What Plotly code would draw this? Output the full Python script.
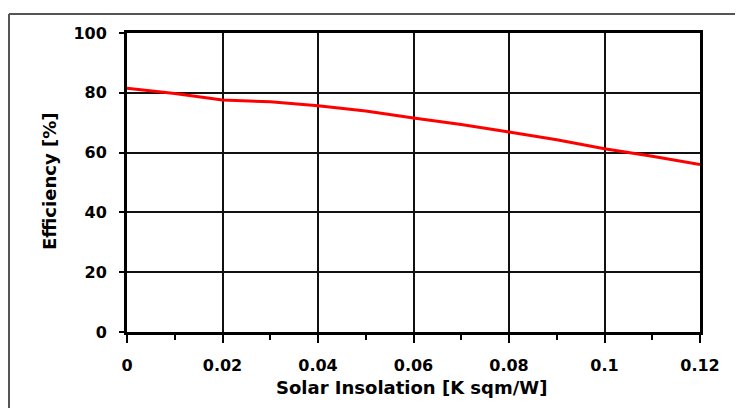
import plotly.graph_objects as go

insolation = [0.0, 0.01, 0.02, 0.03, 0.04, 0.05, 0.06, 0.07, 0.08, 0.09, 0.10, 0.11, 0.12]
efficiency = [81.5, 79.8, 77.6, 77.0, 75.7, 73.9, 71.6, 69.4, 66.9, 64.3, 61.3, 58.8, 56.0]

x_ticks = [0, 0.02, 0.04, 0.06, 0.08, 0.1, 0.12]
x_labels = ["0", "0.02", "0.04", "0.06", "0.08", "0.1", "0.12"]
y_ticks = [0, 20, 40, 60, 80, 100]

tick_font = dict(family="DejaVu Sans", size=16, color="black", weight="bold")
title_font = dict(family="DejaVu Sans", size=18, color="black", weight="bold")

fig = go.Figure()
fig.add_trace(go.Scatter(x=insolation, y=efficiency, mode="lines",
                         line=dict(color="#ff0000", width=3), showlegend=False))

# page body has an 8px default margin; compensate so the plot lands where the reference has it
OFF = 8
W, H = 743 - OFF, 408 - OFF
L, R, T, B = 127 - OFF, 43, 33 - OFF, 76
pw = W - L - R
ph = H - T - B


def px_x(px):
    return (px - OFF - L) / pw


def px_y(py):
    return (H - B - (py - OFF)) / ph


fig.update_layout(
    width=W, height=H,
    margin=dict(l=L, r=R, t=T, b=B),
    paper_bgcolor="white", plot_bgcolor="white",
    xaxis=dict(range=[0, 0.12], tickvals=x_ticks, ticktext=x_labels,
               showgrid=True, gridcolor="#111111", gridwidth=1.5,
               showline=True, linecolor="black", linewidth=3, mirror=True,
               ticks="outside", ticklen=8, tickwidth=1.5, tickcolor="black",
               minor=dict(tickvals=[0.01, 0.03, 0.05, 0.07, 0.09, 0.11],
                          ticks="outside", ticklen=5, tickwidth=1.5, tickcolor="black", showgrid=False),
               tickfont=tick_font, ticklabelstandoff=9, zeroline=False, fixedrange=True),
    yaxis=dict(range=[0, 100], tickvals=y_ticks,
               showgrid=True, gridcolor="#111111", gridwidth=1.5,
               showline=True, linecolor="black", linewidth=3, mirror=True,
               ticks="outside", ticklen=5, tickwidth=1.5, tickcolor="black",
               tickfont=tick_font, ticklabelstandoff=9, zeroline=False, fixedrange=True),
    annotations=[
        dict(text="Solar Insolation [K sqm/W]", xref="paper", yref="paper",
             x=px_x(411), y=px_y(388), showarrow=False, font=title_font,
             xanchor="center", yanchor="middle"),
        dict(text="Efficiency [%]", xref="paper", yref="paper",
             x=px_x(49), y=px_y(182), showarrow=False, font=title_font, textangle=-90,
             xanchor="center", yanchor="middle"),
    ],
    shapes=[
        dict(type="line", xref="paper", yref="paper", x0=px_x(9), x1=px_x(9),
             y0=px_y(14), y1=px_y(420), line=dict(color="#555555", width=2)),
        dict(type="line", xref="paper", yref="paper", x0=px_x(9), x1=px_x(760),
             y0=px_y(14), y1=px_y(14), line=dict(color="#555555", width=2)),
    ],
)

fig.write_html("out.html")
